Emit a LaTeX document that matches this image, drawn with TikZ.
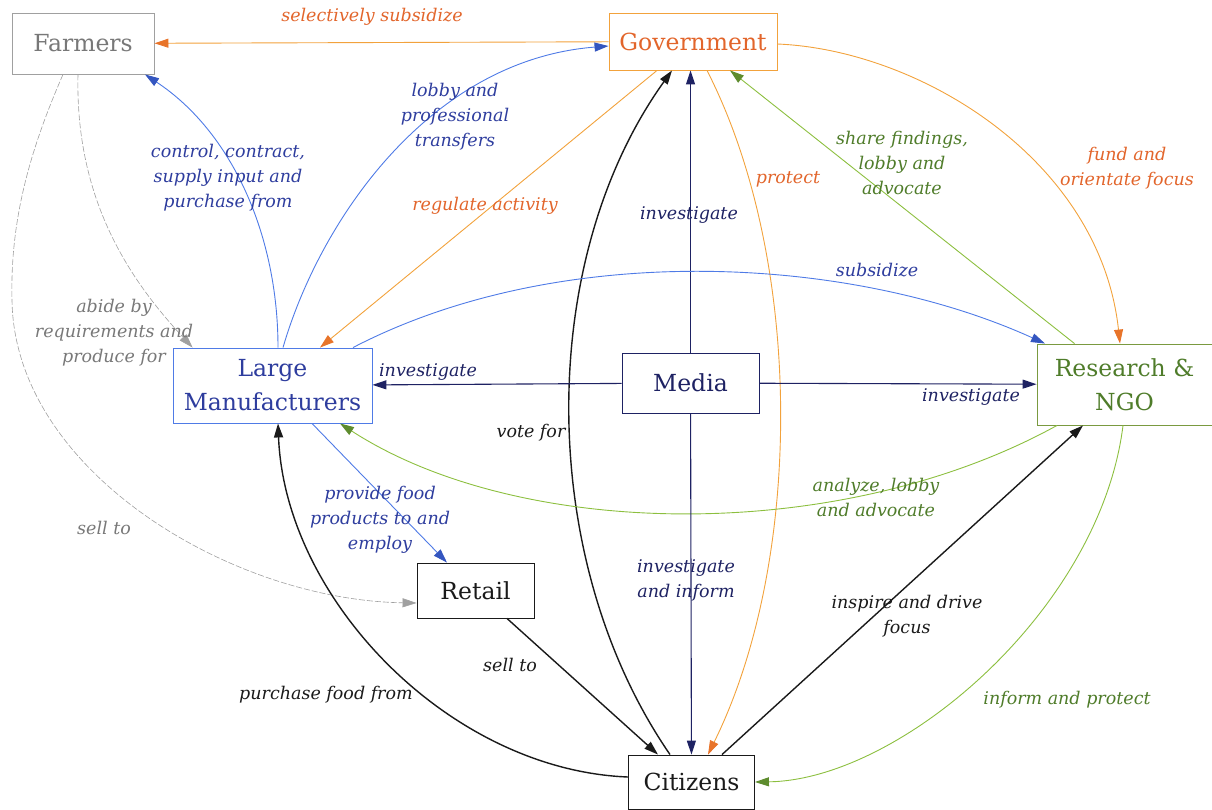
\documentclass[tikz,border=0pt]{standalone}
\usepackage{fontspec}
\setmainfont{DejaVu Serif}
\usetikzlibrary{arrows.meta}

\definecolor{orgline}{HTML}{F2A23C}
\definecolor{orgtip}{HTML}{E8742A}
\definecolor{orgtext}{HTML}{E2652B}
\definecolor{bluline}{HTML}{4F7BE6}
\definecolor{blutip}{HTML}{3456C0}
\definecolor{blutext}{HTML}{2E3D9E}
\definecolor{navy}{HTML}{1E2263}
\definecolor{grnline}{HTML}{8CBF3F}
\definecolor{grntip}{HTML}{5E8C2E}
\definecolor{grntext}{HTML}{4F7C2A}
\definecolor{grnbox}{HTML}{7A9A40}
\definecolor{gryline}{HTML}{A0A0A0}
\definecolor{grytext}{HTML}{787878}
\definecolor{blk}{HTML}{1A1A1A}

\tikzset{
  box/.style={draw, rectangle, inner sep=0pt, align=center, line width=0.9pt,
    font=\fontsize{23.5}{34}\selectfont},
  lbl/.style={inner sep=0pt, align=center, font=\fontsize{17.5}{25}\selectfont\itshape},
  orng/.style={draw=orgline, line width=0.9pt, -{Triangle[length=14pt,width=9pt,color=orgtip]}},
  blu/.style={draw=bluline, line width=0.9pt, -{Triangle[length=14pt,width=9pt,color=blutip]}},
  grn/.style={draw=grnline, line width=0.9pt, -{Triangle[length=14pt,width=9pt,color=grntip]}},
  nav/.style={draw=navy, line width=1.1pt, -{Triangle[length=14pt,width=9pt,color=navy]}},
  blkedge/.style={draw=blk, line width=1.4pt, -{Triangle[length=14pt,width=9pt,color=blk]}},
  gry/.style={draw=gryline, line width=0.6pt, dash pattern=on 6pt off 2pt,
    -{Triangle[length=14pt,width=9pt,color=gryline]}}
}

\begin{document}
\begin{tikzpicture}[x=1pt,y=-1pt]
\useasboundingbox (0,0) rectangle (1212,809);

% actors
\node[box, draw=gryline, text=grytext, minimum width=142pt, minimum height=61pt] (farmers) at (83,43.5) {Farmers};
\node[box, draw=orgline, text=orgtext, minimum width=168pt, minimum height=57pt] (gov) at (693,41.5) {Government};
\node[box, draw=bluline, text=blutext, minimum width=199pt, minimum height=75pt] (lm) at (272.5,385.5) {Large\\Manufacturers};
\node[box, draw=navy, text=navy, minimum width=137pt, minimum height=60pt] (media) at (690.5,383) {Media};
\node[box, draw=grnbox, text=grntext, minimum width=175pt, minimum height=81pt] (ngo) at (1124.5,384.5) {Research \&\\NGO};
\node[box, draw=blk, text=blk, minimum width=117pt, minimum height=55pt] (retail) at (475.5,590.5) {Retail};
\node[box, draw=blk, text=blk, minimum width=126pt, minimum height=54pt] (citizens) at (691.5,782) {Citizens};

% relations
\draw[orng] (gov) -- (farmers);
\draw[blu] ([xshift=5.5pt]lm.north) .. controls (278,235) and (232,132) .. ([xshift=62pt]farmers.south);
\draw[blu] ([xshift=10.5pt]lm.north) .. controls (320,220) and (430,60) .. ([yshift=-4.5pt]gov.west);
\draw[orng] ([xshift=-36pt]gov.south) -- ([xshift=47.5pt]lm.north);
\draw[blkedge] ([xshift=-21.5pt]citizens.north) .. controls (536,560) and (536,260) .. ([xshift=-21pt]gov.south);
\draw[nav] (media.north) -- (media.north |- gov.south);
\draw[orng] ([xshift=14pt]gov.south) .. controls (804,260) and (804,560) .. ([xshift=16.5pt]citizens.north);
\draw[grn] ([xshift=-50pt]ngo.north) -- ([xshift=37pt]gov.south);
\draw[orng] ([yshift=-2.5pt]gov.east) .. controls (920,50) and (1100,160) .. ([xshift=-4.5pt]ngo.north);
\draw[blu] ([xshift=80.5pt]lm.north) .. controls (560,240) and (850,255) .. ([xshift=-79.5pt]ngo.north);
\draw[nav] (media) -- (lm);
\draw[nav] (media) -- (ngo);
\draw[grn] ([xshift=-67.5pt]ngo.south) .. controls (840,545) and (520,540) .. ([xshift=67.5pt]lm.south);
\draw[gry] ([xshift=-5pt]farmers.south) .. controls (75,200) and (130,280) .. ([xshift=20pt]lm.north west);
\draw[gry] ([xshift=-20pt]farmers.south) .. controls (30,150) and (10,220) .. (12,300)
   .. controls (14,470) and (230,600) .. ([yshift=-12.5pt]retail.west);
\draw[blu] ([xshift=39.5pt]lm.south) -- ([xshift=-28.5pt]retail.north);
\draw[blkedge] ([xshift=31.5pt]retail.south) -- ([xshift=-33.5pt]citizens.north);
\draw[blkedge] ([yshift=5pt]citizens.west) .. controls (450,770) and (285,600) .. ([xshift=5.5pt]lm.south);
\draw[nav] (media) -- (citizens);
\draw[blkedge] ([xshift=30.5pt]citizens.north) -- ([xshift=-41.5pt]ngo.south);
\draw[grn] ([xshift=-1.5pt]ngo.south) .. controls (1100,610) and (900,780) .. (citizens.east);

% relation labels
\node[lbl, text=orgtext] (t-selsub) at (372,17) {selectively subsidize};
\node[lbl, text=blutext] (t-control) at (228,178) {control, contract,\\supply input and\\purchase from};
\node[lbl, text=blutext] (t-lobbyprof) at (455,117) {lobby and\\professional\\transfers};
\node[lbl, text=orgtext] (t-regulate) at (485,206) {regulate activity};
\node[lbl, text=navy] (t-invgov) at (689,215) {investigate};
\node[lbl, text=orgtext] (t-protect) at (788,179) {protect};
\node[lbl, text=grntext] (t-share) at (902,163) {share findings,\\lobby and\\advocate};
\node[lbl, text=orgtext] (t-fund) at (1127,168) {fund and\\orientate focus};
\node[lbl, text=blutext] (t-subsid) at (877,270) {subsidize};
\node[lbl, text=navy] (t-invlm) at (428,372) {investigate};
\node[lbl, text=navy] (t-invngo) at (971,397) {investigate};
\node[lbl, text=grntext] (t-analyze) at (876,497) {analyze, lobby\\and advocate};
\node[lbl, text=grytext] (t-abide) at (114,333) {abide by\\requirements and\\produce for};
\node[lbl, text=grytext] (t-sellf) at (104,528) {sell to};
\node[lbl, text=blk] (t-vote) at (531,433) {vote for};
\node[lbl, text=blutext] (t-provide) at (380,520) {provide food\\products to and\\employ};
\node[lbl, text=navy] (t-invcit) at (686,580) {investigate\\and inform};
\node[lbl, text=blk] (t-sellr) at (510,665) {sell to};
\node[lbl, text=blk] (t-purchase) at (326,695) {purchase food from};
\node[lbl, text=blk] (t-inspire) at (907,616) {inspire and drive\\focus};
\node[lbl, text=grntext] (t-inform) at (1067,700) {inform and protect};
\end{tikzpicture}
\end{document}
